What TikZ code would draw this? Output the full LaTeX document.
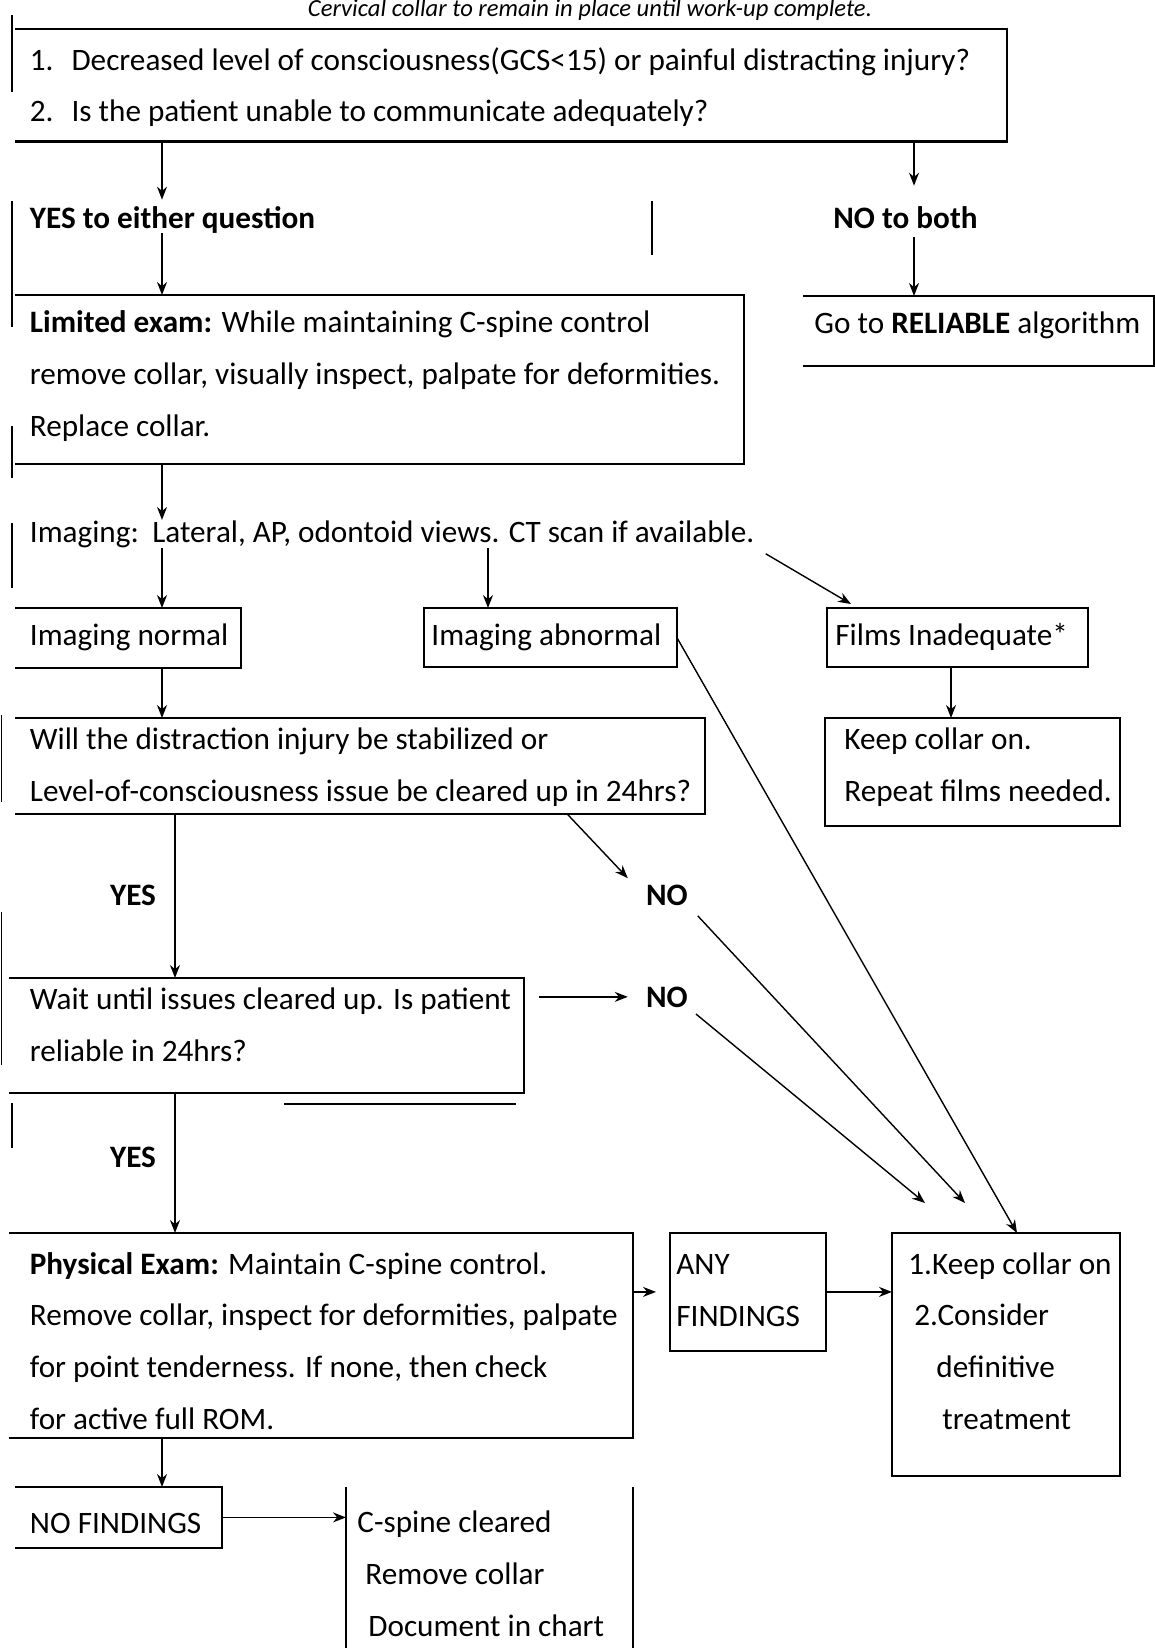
\documentclass[tikz,border=0pt]{standalone}
\usepackage{fontspec}
\setmainfont{Carlito}
\usetikzlibrary{arrows.meta}
\begin{document}
\begin{tikzpicture}[x=0.5pt,y=-0.5pt,
  txt/.style={anchor=base west, inner sep=0pt, align=left, font=\fontsize{15.6pt}{25.8pt}\selectfont},
  lbl/.style={anchor=base, inner sep=0pt, font=\fontsize{15.6pt}{25.8pt}\selectfont\bfseries},
  boxshape/.style={rectangle, inner sep=0pt, anchor=north west},
  frame/.style={line width=1.3pt},
  thinframe/.style={line width=0.8pt},
  stray/.style={line width=0.7pt},
  arr/.style={line width=0.7pt, -{Stealth[length=6.5pt,width=5pt]}},
]
\useasboundingbox (0,0) rectangle (1155,1648);

% title
\node[anchor=base, inner sep=0pt, font=\fontsize{12.3pt}{14pt}\selectfont\itshape] (title) at (590,17) {Cervical collar to remain in place until work-up complete.};

% boxes
\node[boxshape, minimum width=495.5pt, minimum height=56pt] (qbox) at (15,29) {};
\node[boxshape, minimum width=364pt, minimum height=84pt] (limbox) at (15,295) {};
\node[boxshape, minimum width=175pt, minimum height=34.5pt] (gobox) at (803,296) {};
\node[boxshape, minimum width=112.5pt, minimum height=29.5pt] (normbox) at (15,608) {};
\node[boxshape, minimum width=126pt, minimum height=29pt] (abnbox) at (424,608) {};
\node[boxshape, minimum width=130pt, minimum height=29pt] (filmbox) at (827,608) {};
\node[boxshape, minimum width=147pt, minimum height=53.5pt] (keepbox) at (825,718) {};
\node[boxshape, minimum width=344.5pt, minimum height=47.5pt] (willbox) at (15,718) {};
\node[boxshape, minimum width=257pt, minimum height=57pt] (waitbox) at (9,978) {};
\node[boxshape, minimum width=311.5pt, minimum height=102pt] (physbox) at (9,1233) {};
\node[boxshape, minimum width=77.5pt, minimum height=58.5pt] (anybox) at (670,1233) {};
\node[boxshape, minimum width=113.5pt, minimum height=121pt] (treatbox) at (892,1233) {};
\node[boxshape, minimum width=103pt, minimum height=30pt] (nofbox) at (15,1487) {};
\node[boxshape, minimum width=143pt, minimum height=80.5pt] (clearbox) at (346,1487) {};

% open-left frames
\foreach \b in {qbox,limbox,gobox,normbox,willbox,waitbox,physbox,nofbox}
  \draw[frame] (\b.north west) -- (\b.north east) -- (\b.south east) -- (\b.south west);
% closed frames
\foreach \b in {abnbox,filmbox,keepbox,anybox,treatbox}
  \draw[frame] (\b.north west) rectangle (\b.south east);
% side-only frame
\draw[thinframe] (clearbox.north west) -- (clearbox.south west)
                 (clearbox.north east) -- (clearbox.south east);

% texts (base anchor = baseline of last line)
\node[txt] (qtext) at (29.5,122) {1.\hspace{9pt}Decreased level of consciousness(GCS<15) or painful distracting injury?\\2.\hspace{9pt}Is the patient unable to communicate adequately?};
\node[txt, font=\fontsize{15.6pt}{25.8pt}\selectfont\bfseries] (yes) at (29.5,228) {YES to either question};
\node[txt, font=\fontsize{15.6pt}{25.8pt}\selectfont\bfseries] (no) at (833,228) {NO to both};
\node[txt] (limtext) at (29.5,436) {\textbf{Limited exam:} While maintaining C-spine control\\remove collar, visually inspect, palpate for deformities.\\Replace collar.};
\node[txt] (gotext) at (814,333) {Go to \textbf{RELIABLE} algorithm};
\node[txt] (imgtext) at (29.5,542) {Imaging:\hspace{2pt} Lateral, AP, odontoid views. CT scan if available.};
\node[txt] (normtext) at (29.5,645) {Imaging normal};
\node[txt] (abntext) at (431,645) {Imaging abnormal};
\node[txt] (filmtext) at (835,645) {Films Inadequate*};
\node[txt] (keeptext) at (844,801) {Keep collar on.\\Repeat films needed.};
\node[txt] (willtext) at (29.5,801) {Will the distraction injury be stabilized or\\Level-of-consciousness issue be cleared up in 24hrs?};
\node[lbl] (yes1) at (133,905) {YES};
\node[lbl] (no1) at (667,905) {NO};
\node[txt] (waittext) at (29.5,1061) {Wait until issues cleared up. Is patient\\reliable in 24hrs?};
\node[lbl] (no2) at (667,1007) {NO};
\node[lbl] (yes2) at (133,1167) {YES};
\node[txt] (phystext) at (29.5,1429) {\textbf{Physical Exam:} Maintain C-spine control.\\Remove collar, inspect for deformities, palpate\\for point tenderness. If none, then check\\for active full ROM.};
\node[txt] (anytext) at (676,1326) {ANY\\FINDINGS};
\node[txt] (treattext) at (908,1429) {1.Keep collar on\\\hspace*{3pt}2.Consider\\\hspace*{14pt}definitive\\\hspace*{17pt}treatment};
\node[txt] (noftext) at (29.5,1533) {NO FINDINGS};
\node[txt] (cleartext) at (357,1636) {C-spine cleared\\\hspace*{4pt}Remove collar\\\hspace*{5.5pt}Document in chart};

% connectors
\draw[arr, shorten >=3pt] (qbox.south -| 162,0) -- (yes.north -| 162,0);
\draw[arr, shorten >=10pt] (qbox.south -| 914,0) -- (no.north -| 914,0);
\draw[arr] (yes.south -| 162,0) -- (limbox.north -| 162,0);
\draw[arr, shorten <=4pt] (no.south -| 914,0) -- (gobox.north -| 914,0);
\draw[arr] (limbox.south -| 162,0) -- (imgtext.north -| 162,0);
\draw[arr] (imgtext.south -| 162,0) -- (normbox.north -| 162,0);
\draw[arr] (imgtext.south -| 488,0) -- (abnbox.north -| 488,0);
\draw[arr] ([xshift=5.5pt,yshift=-3pt]imgtext.south east) -- ([xshift=12pt,yshift=2pt]filmbox.north west);
\draw[arr] (filmbox.south -| 951,0) -- (keepbox.north -| 951,0);
\draw[arr] (normbox.south -| 162,0) -- (willbox.north -| 162,0);
\draw[arr] (willbox.south -| 175,0) -- (waitbox.north -| 175,0);
\draw[arr] (willbox.south -| 567,0) -- ([xshift=-9pt,yshift=3pt]no1.north west);
\draw[arr, shorten <=7.5pt, shorten >=9pt] (no2.west -| waitbox.east) -- (no2.west);
\draw[arr, shorten <=7pt] (no1.south east) -- ([xshift=36.5pt,yshift=15pt]treatbox.north west);
\draw[arr, shorten <=5pt] (no2.south east) -- ([xshift=16.5pt,yshift=15pt]treatbox.north west);
\draw[arr] (abnbox.east) -- ([xshift=62.5pt]treatbox.north west);
\draw[arr] (waitbox.south -| 175,0) -- (physbox.north -| 175,0);
\draw[arr, shorten >=7pt] (physbox.east |- anybox.west) -- (anybox.west);
\draw[arr] (anybox.east) -- (treatbox.west |- anybox.east);
\draw[arr] (physbox.south -| 162,0) -- (nofbox.north -| 162,0);
\draw[arr] (nofbox.east) -- (clearbox.west |- nofbox.east);

% stray rule fragments
\draw[stray] (12,15) -- (12,92);
\draw[stray] (12,201) -- (12,327);
\draw[stray] (652,201) -- (652,255);
\draw[stray] (12,426) -- (12,478);
\draw[stray] (12,523) -- (12,588);
\draw[stray] (1.5,715) -- (1.5,802);
\draw[stray] (1.5,912) -- (1.5,1065);
\draw[stray] (12,1103) -- (12,1148);
\draw[stray] (284,1104) -- (516,1104);
\end{tikzpicture}
\end{document}
